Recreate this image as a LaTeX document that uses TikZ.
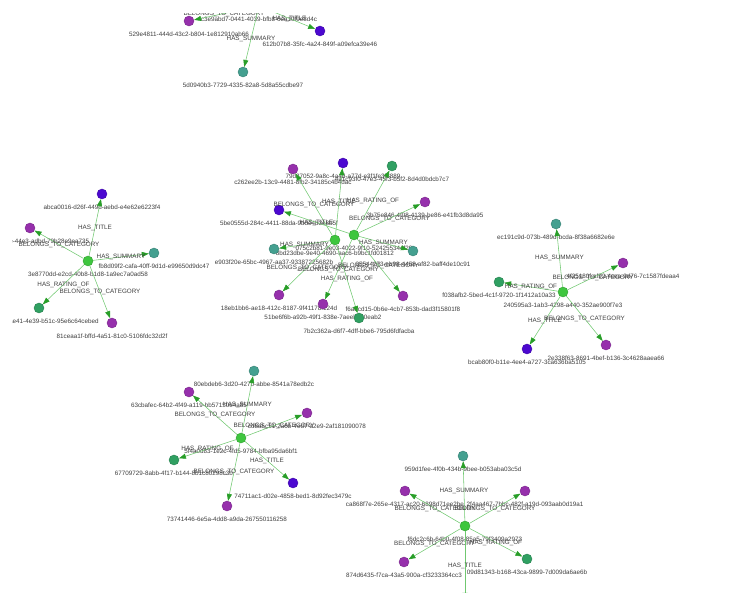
\documentclass[tikz,border=0pt]{standalone}
\usepackage{fontspec}
\setmainfont{Liberation Sans}
\usepackage{tikz}
\usetikzlibrary{arrows.meta}
\definecolor{hubc}{RGB}{62,198,62}
\definecolor{catc}{RGB}{150,48,172}
\definecolor{titc}{RGB}{76,8,208}
\definecolor{sumc}{RGB}{68,160,144}
\definecolor{ratc}{RGB}{48,160,98}
\definecolor{linec}{RGB}{112,200,112}
\definecolor{tipc}{RGB}{40,158,40}
\definecolor{txtc}{RGB}{62,62,62}
\newcommand{\bcat}{BELONGS\_TO\_CATEGORY}
\newcommand{\htit}{HAS\_TITLE}
\newcommand{\hsum}{HAS\_SUMMARY}
\newcommand{\hrat}{HAS\_RATING\_OF}

\begin{document}
\begin{tikzpicture}[x=1pt,y=-1pt,
    lab/.style={inner sep=0pt,text=txtc,font=\fontsize{6.3}{7}\selectfont},
    vlab/.style={lab,yshift=-5.5pt},
    vx/.style={circle,minimum size=10pt,inner sep=0pt,line width=.4pt},
    hub/.style={vx,fill=hubc,draw=hubc!80!black},
    cat/.style={vx,fill=catc,draw=catc!80!black},
    tit/.style={vx,fill=titc,draw=titc!80!black},
    sum/.style={vx,fill=sumc,draw=sumc!80!black},
    rat/.style={vx,fill=ratc,draw=ratc!80!black},
    rel/.style={draw=linec,line width=.55pt,-{Triangle[length=7pt,width=5pt,color=tipc]}}]
  \useasboundingbox (0,0) rectangle (748,593);
  \clip (12,14) rectangle (748,593);
  % vertices
  \foreach \n/\x/\y/\s/\t in {
      t0/259/6/hub/c3e9abd7-0441-4039-bfb8-6ea10f9e8d4c,
      t1/189/21/cat/529e4811-444d-43c2-b804-1e812910ab66,
      t2/320/31/tit/612b07b8-35fc-4a24-849f-a09efca39e46,
      t3/243/72/sum/5d0940b3-7729-4335-82a8-5d8a55cdbe97,
      l0/88/261/hub/3e8770dd-e2cd-40b8-b1d8-1a9ec7a0ad58,
      l1/102/194/tit/abca0016-d26f-449d-aebd-e4e62e6223f4,
      l2/30/228/cat/0c7f2a9b-5d1e-44e3-adbd-79b28e9ea735,
      l3/154/253/sum/fb8d09f2-cafa-40ff-9d1d-e99650d9dc47,
      l4/39/308/rat/b8c2417d-ae41-4e39-b51c-95e6c64cebed,
      l5/112/323/cat/81ceaa1f-bffd-4a51-81c0-5106fdc32d2f,
      a0/335/240/hub/8bd23dbe-9e40-4690-aac6-b9bc1fd01812,
      b0/354/235/hub/075c2b81-9e03-4022-9f10-524255344f28,
      c1/293/169/cat/c262ee2b-13c9-4481-8fb2-34185c4b4dac,
      c2/343/163/tit/79d27052-9a8c-4a4d-a77d-e3f1fe3f8889,
      c3/392/166/rat/4a1c93f0-47e3-45f3-b5f2-8d4d0bdcb7c7,
      c4/425/202/cat/3b75e846-4f08-4139-be86-e41fb3d8da95,
      c5/279/210/tit/5be0555d-284c-4411-88da-9bde4b3e8b5f,
      c6/274/249/sum/e903f20e-65bc-4967-aa37-93387225682b,
      c7/413/251/sum/35544273-eb98-4458-af82-baff4de10c91,
      c8/279/295/cat/18eb1bb6-ae18-412c-8187-9f41178f124d,
      c9/323/304/cat/51be6f6b-a92b-49f1-838e-7aeebd20eab2,
      c10/359/318/rat/7b2c362a-d6f7-4dff-bbe6-795d6fdfacba,
      c11/403/296/cat/f6aecd15-0b6e-4cb7-853b-dad3f15801f8,
      r0/563/292/hub/240595a3-1ab3-4298-a440-352ae900f7e3,
      r1/556/224/sum/ec191c9d-073b-489d-bcda-8f38a6682e6e,
      r2/623/263/cat/4f25180f-af92-4cea-9d76-7c1587fdeaa4,
      r3/499/282/rat/f038afb2-5bed-4c1f-9720-1f1412a10a33,
      r4/527/349/tit/bcab80f0-b11e-4ee4-a727-3ca636ba5105,
      r5/606/345/cat/2e338f63-8691-4bef-b136-3c4628aaea66,
      m0/241/438/hub/5f4a0d83-1e2c-4fd5-9784-bfba95da6bf1,
      m1/254/371/sum/80ebdeb6-3d20-427b-abbe-8541a78edb2c,
      m2/189/392/cat/63cbafec-64b2-4f49-a119-bb57150e4a85,
      m3/307/413/cat/cd8a5c51-2a6b-4ed7-a2e9-2af181090078,
      m4/174/460/rat/67709729-8abb-4f17-b144-8b1c80298c3b,
      m5/293/483/tit/74711ac1-d02e-4858-bed1-8d92fec3479c,
      m6/227/506/cat/73741446-6e5a-4dd8-a9da-267550116258,
      n0/465/526/hub/f6dc2c6b-64b0-4f08-85a5-79f3409a2973,
      n1/463/456/sum/959d1fee-4f0b-434b-9bee-b053aba03c5d,
      n2/405/491/cat/ca868f7e-265e-4317-ac20-6898d71ee2be,
      n3/525/491/cat/2f4aa467-7bbc-482f-a19d-093aab0d19a1,
      n4/404/562/cat/874d6435-f7ca-43a5-900a-cf3233364cc3,
      n5/527/559/rat/09d81343-b168-43ca-9899-7d009da6ae6b,
      n6/465/605/tit/{}}
    \node[\s,label={[vlab]below:\t}] (\n) at (\x,\y) {};
  % relations
  \foreach \a/\b/\r in {t0/t1/\bcat,t0/t2/\htit,t0/t3/\hsum,
      l0/l1/\htit,l0/l2/\bcat,l0/l3/\hsum,l0/l4/\hrat,l0/l5/\bcat,
      a0/c1/\bcat,a0/c2/\htit,a0/c6/\hsum,a0/c8/\bcat,a0/c10/\hrat,
      b0/c3/\hrat,b0/c4/\bcat,b0/c5/\htit,b0/c7/\hsum,b0/c9/\bcat,b0/c11/\bcat,
      r0/r1/\hsum,r0/r2/\bcat,r0/r3/\hrat,r0/r4/\htit,r0/r5/\bcat,
      m0/m1/\hsum,m0/m2/\bcat,m0/m3/\bcat,m0/m4/\hrat,m0/m5/\htit,m0/m6/\bcat,
      n0/n1/\hsum,n0/n2/\bcat,n0/n3/\bcat,n0/n4/\bcat,n0/n5/\hrat,n0/n6/\htit}
    \draw[rel] (\a) -- node[lab]{\r} (\b);
\end{tikzpicture}
\end{document}
